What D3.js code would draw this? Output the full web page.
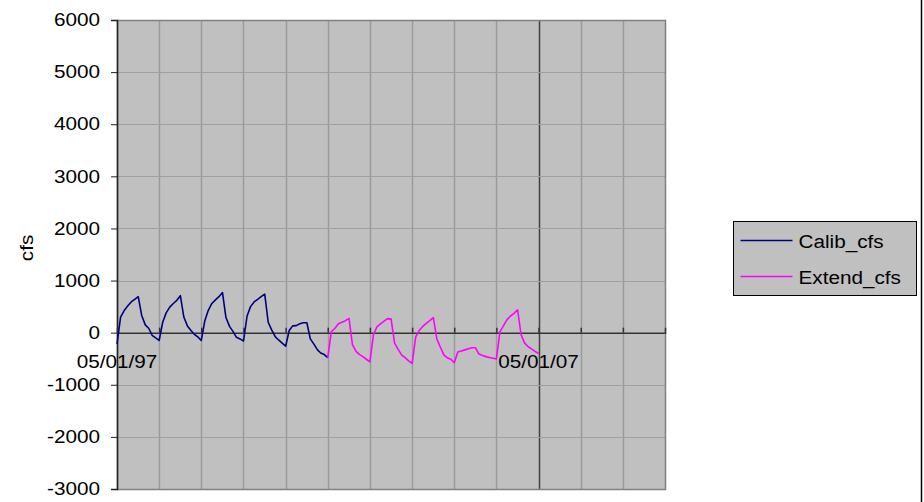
<!DOCTYPE html>
<html>
<head>
<meta charset="utf-8">
<script src="https://cdnjs.cloudflare.com/ajax/libs/d3/7.8.5/d3.min.js"></script>
<style>
    body { margin: 0; background: white; }
    svg text { font-family: "Liberation Sans", Arial, sans-serif; }
</style>
</head>
<body>
<div id="chart"></div>
<script>

// monthly values, first of each month
var calibStart = '1997-05-01';
var calibCfs = [
    -220, 300, 420, 510, 590, 640, 690, 330, 150, 80, -50, -100,
    -150, 200, 380, 490, 560, 620, 710, 300, 130, 40, -30, -80,
    -150, 230, 430, 560, 630, 690, 770, 290, 120, 20, -90, -120,
    -160, 320, 500, 590, 640, 690, 740, 200, 50, -80, -140, -200,
    -260, 40, 130, 135, 170, 190, 190, -120, -220, -330, -390, -420,
    -480
];

var extendStart = '2002-05-01';
var extendCfs = [
    -480, 20, 80, 170, 200, 230, 275, -230, -360, -420, -460, -510,
    -560, -40, 110, 170, 220, 270, 260, -200, -320, -430, -480, -540,
    -590, -80, 40, 120, 180, 230, 290, -120, -280, -430, -480, -510,
    -575, -370, -350, -330, -310, -290, -290, -410, -440, -460, -475, -490,
    -505, 20, 130, 250, 320, 370, 440, -40, -200, -270, -310, -360,
    -400
];

var seriesNames = ['Calib_cfs', 'Extend_cfs'];
var seriesColors = ['#000080', '#ff00ff'];

var yTicks = [-3000, -2000, -1000, 0, 1000, 2000, 3000, 4000, 5000, 6000];
var xLabelDates = ['1997-05-01', '2007-05-01'];
var xDomain = ['1997-05-01', '2010-05-01'];

var parse = d3.timeParse('%Y-%m-%d'),
    fmt = d3.timeFormat('%m/%d/%y');

function toPoints(start, values) {
    var d0 = parse(start);
    return values.map(function (v, i) {
        return { date: d3.timeMonth.offset(d0, i), value: v };
    });
}

var series = [toPoints(calibStart, calibCfs), toPoints(extendStart, extendCfs)];

var width = 924, height = 502;
var plot = { left: 117, top: 20, right: 665, bottom: 489 };

var svg = d3.select('#chart').append('svg')
    .attr('width', width)
    .attr('height', height)
    .style('display', 'block');

var x = d3.scaleTime()
    .domain(xDomain.map(parse))
    .range([plot.left, plot.right]);

var y = d3.scaleLinear()
    .domain([-3000, 6000])
    .range([plot.bottom, plot.top]);

// plot background
svg.append('rect')
    .attr('x', plot.left)
    .attr('y', plot.top)
    .attr('width', plot.right - plot.left)
    .attr('height', plot.bottom - plot.top)
    .attr('fill', '#c0c0c0');

// yearly gridlines, the one at 05/01/07 is a major one
var years = d3.range(1, 13).map(function (k) {
    return d3.timeYear.offset(parse(xDomain[0]), k);
});

svg.append('g')
    .selectAll('line')
    .data(years)
    .enter().append('line')
    .attr('x1', function (d) { return Math.round(x(d)) + 0.5; })
    .attr('x2', function (d) { return Math.round(x(d)) + 0.5; })
    .attr('y1', plot.top)
    .attr('y2', plot.bottom)
    .attr('stroke', function (d) { return fmt(d) === '05/01/07' ? '#404040' : '#9a9a9a'; })
    .attr('stroke-width', 1.5);

svg.append('g')
    .selectAll('line')
    .data(yTicks.filter(function (t) { return t !== 0 && t !== -3000; }))
    .enter().append('line')
    .attr('x1', plot.left)
    .attr('x2', plot.right)
    .attr('y1', function (d) { return Math.round(y(d)) + 0.5; })
    .attr('y2', function (d) { return Math.round(y(d)) + 0.5; })
    .attr('stroke', '#a0a0a0')
    .attr('stroke-width', 1);

// plot border
svg.append('rect')
    .attr('x', plot.left + 0.5)
    .attr('y', plot.top + 0.5)
    .attr('width', plot.right - plot.left)
    .attr('height', plot.bottom - plot.top)
    .attr('fill', 'none')
    .attr('stroke', '#808080')
    .attr('stroke-width', 1.5);

// y axis
var yAxis = svg.append('g')
    .attr('transform', 'translate(' + plot.left + ',0)')
    .call(d3.axisLeft(y).tickValues(yTicks).tickSize(6).tickPadding(11)
        .tickFormat(function (d) { return String(d); }));

yAxis.select('.domain').attr('stroke', '#222').attr('stroke-width', 1.5);
yAxis.selectAll('.tick line').attr('stroke', '#222');
yAxis.selectAll('text')
    .attr('fill', '#000')
    .style('font-size', '18px');

// x axis at zero
var xAxis = svg.append('g')
    .attr('transform', 'translate(0,' + y(0) + ')')
    .call(d3.axisTop(x).tickValues(years).tickSize(5).tickFormat(''));

xAxis.select('.domain').attr('stroke', '#333').attr('stroke-width', 1.5);
xAxis.selectAll('.tick line').attr('stroke', '#333').attr('stroke-width', 1.5);

svg.append('g')
    .selectAll('text')
    .data(xLabelDates.map(parse))
    .enter().append('text')
    .attr('x', function (d) { return x(d); })
    .attr('y', y(0) + 35)
    .attr('text-anchor', 'middle')
    .style('font-size', '18px')
    .text(function (d) { return fmt(d); });

// y title
svg.append('text')
    .attr('transform', 'translate(33,248) rotate(-90)')
    .attr('text-anchor', 'middle')
    .style('font-size', '18px')
    .text('cfs');

// series lines
var line = d3.line()
    .x(function (d) { return x(d.date); })
    .y(function (d) { return y(d.value); });

svg.append('g')
    .selectAll('path')
    .data(series)
    .enter().append('path')
    .attr('d', line)
    .attr('fill', 'none')
    .attr('stroke', function (d, i) { return seriesColors[i]; })
    .attr('stroke-width', 1.6)
    .attr('stroke-linejoin', 'round');

// legend
var legend = svg.append('g')
    .attr('transform', 'translate(733.5,221.5)');

legend.append('rect')
    .attr('width', 183)
    .attr('height', 74)
    .attr('fill', '#c0c0c0')
    .attr('stroke', '#000')
    .attr('stroke-width', 1);

var item = legend.selectAll('g.item')
    .data(seriesNames)
    .enter().append('g')
    .attr('class', 'item')
    .attr('transform', function (d, i) { return 'translate(0,' + (19 + i * 36) + ')'; });

item.append('line')
    .attr('x1', 7)
    .attr('x2', 59)
    .attr('stroke', function (d, i) { return seriesColors[i]; })
    .attr('stroke-width', 1.6);

item.append('text')
    .attr('x', 65)
    .attr('y', 7)
    .style('font-size', '18px')
    .text(function (d) { return d; });

// the original text is a bit wider than Liberation Sans
svg.selectAll('text').each(function () {
    var len = this.getComputedTextLength();
    d3.select(this)
        .attr('textLength', len * 1.15)
        .attr('lengthAdjust', 'spacingAndGlyphs');
});

// chart area border on the right
svg.append('line')
    .attr('x1', 921.5)
    .attr('x2', 921.5)
    .attr('y1', 0)
    .attr('y2', height)
    .attr('stroke', '#000')
    .attr('stroke-width', 1.5);

</script>
</body>
</html>
